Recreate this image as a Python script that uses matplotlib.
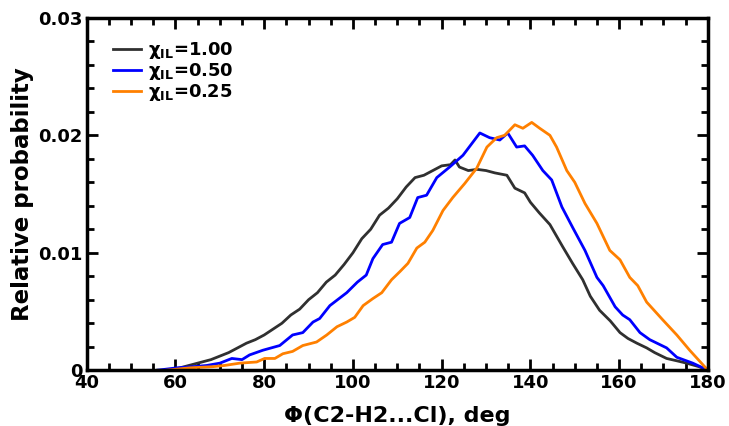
import matplotlib
matplotlib.use("Agg")
import matplotlib.pyplot as plt
from matplotlib.ticker import MultipleLocator

plt.rcParams['font.family'] = ['DejaVu Sans']
plt.rcParams['font.weight'] = 'bold'
plt.rcParams['mathtext.default'] = 'bf'

labels = [r'χ$_{\mathbf{IL}}$=1.00', r'χ$_{\mathbf{IL}}$=0.50', r'χ$_{\mathbf{IL}}$=0.25']
colors = ['#303030', '#0000ff', '#ff8000']

x_100 = [56, 58, 60, 62, 64, 66, 68, 70, 72, 74, 76, 78, 80, 82, 84, 86, 88, 90, 92, 94, 96, 98,
         100, 102, 104, 106, 108, 110, 112, 114, 116, 118, 120, 122, 123, 124, 126, 128, 130,
         132, 134.7, 136.5, 138.7, 140, 142, 144.4, 147.3, 149.5, 151.8, 153.5, 155.6, 158,
         160.2, 162, 164, 166.2, 168, 170.7, 173, 175.2, 178, 180]
y_100 = [0, 0, 0.0001, 0.0003, 0.0005, 0.0007, 0.0009, 0.0012, 0.0015, 0.0019, 0.0023, 0.0026,
         0.0030, 0.0035, 0.0040, 0.0047, 0.0052, 0.0060, 0.0066, 0.0075, 0.0081, 0.0090,
         0.0100, 0.0112, 0.0120, 0.0132, 0.0138, 0.0146, 0.0156, 0.0164, 0.0166, 0.0170,
         0.0174, 0.0175, 0.0179, 0.0173, 0.0170, 0.0171, 0.0170, 0.0168, 0.0166, 0.0155,
         0.0151, 0.0143, 0.0134, 0.0124, 0.0105, 0.0091, 0.0077, 0.0063, 0.0051, 0.0042,
         0.0032, 0.0027, 0.0023, 0.0019, 0.0015, 0.0010, 0.0008, 0.0006, 0.0003, 0]

x_050 = [56, 60.3, 64, 67, 70, 72.7, 75, 76.7, 79.7, 83.5, 86.4, 88.7, 91, 92.5, 94.8, 98.6,
         101, 103, 104.5, 106.7, 108.7, 110.5, 112.8, 114.6, 116.6, 118.9, 121.8, 124.8, 128.6,
         130.8, 133.1, 134.9, 136.9, 138.7, 140.5, 142.8, 144.8, 147.1, 149.6, 152.3, 155,
         156.4, 159.1, 160.8, 162.4, 164.7, 166.9, 170.7, 173, 176.6, 180]
y_050 = [0, 0.0002, 0.0003, 0.0004, 0.0006, 0.0010, 0.0009, 0.0013, 0.0017, 0.0021, 0.0030,
         0.0032, 0.0041, 0.0044, 0.0055, 0.0066, 0.0075, 0.0081, 0.0095, 0.0107, 0.0109,
         0.0125, 0.0130, 0.0147, 0.0149, 0.0164, 0.0173, 0.0183, 0.0202, 0.0198, 0.0196,
         0.0202, 0.0190, 0.0191, 0.0183, 0.0170, 0.0162, 0.0139, 0.0121, 0.0102, 0.0079,
         0.0072, 0.0054, 0.0047, 0.0043, 0.0032, 0.0026, 0.0019, 0.0011, 0.0006, 0]

x_025 = [58, 63.2, 68.4, 71, 74.5, 78.3, 80.1, 82.4, 84.2, 86.4, 88.7, 91.8, 94.1, 96.4, 98.6,
         100.4, 102.3, 104.5, 106.5, 108.7, 110.6, 112.4, 114.4, 116.2, 118.0, 120.3, 122.5,
         125.2, 127.9, 130.2, 132.4, 134.2, 136.5, 138.3, 140.3, 142.1, 144.4, 145.9, 148.2,
         150, 152.3, 155, 157.9, 160.2, 162.4, 164.2, 166.2, 169.8, 173, 175.9, 180]
y_025 = [0, 0.0002, 0.0003, 0.0004, 0.0006, 0.0007, 0.0010, 0.0010, 0.0014, 0.0016, 0.0021,
         0.0024, 0.0030, 0.0037, 0.0041, 0.0045, 0.0055, 0.0061, 0.0066, 0.0077, 0.0084,
         0.0091, 0.0104, 0.0109, 0.0119, 0.0136, 0.0147, 0.0159, 0.0172, 0.0190, 0.0198,
         0.0200, 0.0209, 0.0206, 0.0211, 0.0206, 0.0200, 0.0190, 0.0170, 0.0160, 0.0142,
         0.0125, 0.0102, 0.0094, 0.0079, 0.0072, 0.0058, 0.0043, 0.0030, 0.0017, 0]

xticks = [40, 60, 80, 100, 120, 140, 160, 180]
yticks = [0, 0.01, 0.02, 0.03]
ytick_labels = ['0', '0.01', '0.02', '0.03']

fig = plt.figure(figsize=(7.29, 4.26), dpi=100)
ax = fig.add_axes([0.119, 0.131, 0.852, 0.827])

for xs, ys, lab, c in zip([x_100, x_050, x_025], [y_100, y_050, y_025], labels, colors):
    ax.plot(xs, ys, color=c, lw=2.0, label=lab)

ax.set_xlim(40, 180)
ax.set_ylim(0, 0.03)
ax.set_xticks(xticks)
ax.set_yticks(yticks)
ax.set_yticklabels(ytick_labels)
ax.xaxis.set_minor_locator(MultipleLocator(5))
ax.yaxis.set_minor_locator(MultipleLocator(0.002))
ax.tick_params(which='both', direction='in', top=True, right=True, width=2)
ax.tick_params(which='major', length=8, labelsize=13, pad=3)
ax.tick_params(which='minor', length=5)
for lab in ax.get_xticklabels() + ax.get_yticklabels():
    lab.set_fontweight('bold')
for s in ax.spines.values():
    s.set_linewidth(2.5)

ax.set_xlabel('Φ(C2-H2...Cl), deg', fontsize=16, fontweight='bold', labelpad=10)
ax.set_ylabel('Relative probability', fontsize=16.5, fontweight='bold', labelpad=3)

leg = ax.legend(loc='upper left', frameon=False, fontsize=13, handlelength=1.55,
                handletextpad=0.35, labelspacing=0.0, borderaxespad=0.0,
                bbox_to_anchor=(0.031, 0.958))
for t in leg.get_texts():
    t.set_fontweight('bold')

fig.savefig('out.png', dpi=100)
